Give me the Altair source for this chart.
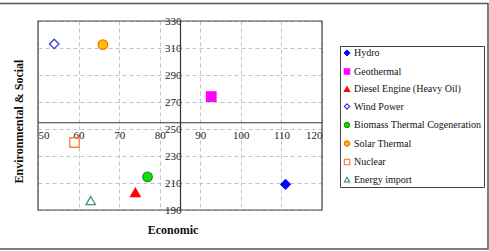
import altair as alt
import pandas as pd

# Technology options scored on two criteria
sources = [
    "Hydro",
    "Geothermal",
    "Diesel Engine  (Heavy Oil)",
    "Wind Power",
    "Biomass Thermal Cogeneration",
    "Solar Thermal",
    "Nuclear",
    "Energy import",
]
economic = [111, 92.7, 74, 54, 77, 66, 59, 63]
env_social = [209, 274, 203, 313, 214.5, 312.5, 240, 197]

shapes = ["diamond", "square", "triangle-up", "diamond", "circle", "circle", "square", "triangle-up"]
strokes = ["#0000ff", "#ff00ff", "#ff0000", "#3b3bd6", "#119911", "#ff6a00", "#ff8040", "#3a9a7a"]
fills = ["#0000ff", "#ff00ff", "#ff0000", "transparent", "#11dd11", "#ffc000", "transparent", "transparent"]

x_ticks = [50, 60, 70, 80, 90, 100, 110, 120]
y_ticks = [190, 210, 230, 250, 270, 290, 310, 330]

df = pd.DataFrame({"source": sources, "economic": economic, "env": env_social})

W, H = 284, 189
X_DOM, Y_DOM = [50, 120], [190, 330]
X_CROSS, Y_CROSS = 85, 255  # where the axes cross inside the plot

x_off = -(H - (Y_DOM[1] - Y_CROSS) / (Y_DOM[1] - Y_DOM[0]) * H)
y_off = -((X_CROSS - X_DOM[0]) / (X_DOM[1] - X_DOM[0]) * W)

FONT = "'Liberation Serif', 'Times New Roman', Times, serif"

legend = alt.Legend(
    title=None,
    orient="none",
    legendX=302,
    legendY=25,
    strokeColor="#444444",
    fillColor="white",
    padding=2,
    labelFont=FONT,
    labelFontSize=10,
    labelColor="#111111",
    labelLimit=300,
    labelOffset=2,
    symbolSize=28,
    symbolStrokeWidth=1.2,
    rowPadding=6.5,
)

points = alt.Chart(df).mark_point(size=90, strokeWidth=1.3, opacity=1, fillOpacity=1).encode(
    x=alt.X(
        "economic:Q",
        scale=alt.Scale(domain=X_DOM, nice=False, zero=False),
        axis=alt.Axis(
            values=x_ticks,
            title="Economic",
            offset=x_off,
            titleX=134.5,
            titleY=106.75,
            titleBaseline="middle",
            titleAlign="center",
            labelPadding=7,
        ),
    ),
    y=alt.Y(
        "env:Q",
        scale=alt.Scale(domain=Y_DOM, nice=False, zero=False),
        axis=alt.Axis(
            values=y_ticks,
            title="Environmental & Social",
            offset=y_off,
            titleX=-162,
            titleY=100,
            titleBaseline="middle",
            titleAlign="center",
            labelPadding=-1,
        ),
    ),
    shape=alt.Shape("source:N", scale=alt.Scale(domain=sources, range=shapes), legend=legend),
    stroke=alt.Stroke("source:N", scale=alt.Scale(domain=sources, range=strokes), legend=legend),
    fill=alt.Fill("source:N", scale=alt.Scale(domain=sources, range=fills), legend=legend),
)

one_row = alt.Data(values=[{}])

# Solid border of the plotting area
plot_border = alt.Chart(one_row).mark_rect(
    fill="transparent", stroke="#444444", strokeWidth=1.2
).encode(x=alt.value(0), x2=alt.value(W), y=alt.value(0), y2=alt.value(H))

# Outer frame around the whole figure
frame = alt.Chart(one_row).mark_rect(
    fill="transparent", stroke="#555555", strokeWidth=1.5
).encode(x=alt.value(-60), x2=alt.value(450), y=alt.value(-17.5), y2=alt.value(228))

chart = alt.layer(frame, plot_border, points).properties(
    width=W,
    height=H,
    autosize=alt.AutoSizeParams(type="none"),
    padding={"left": 38, "top": 21, "right": 167, "bottom": 41},
    background="white",
).configure_view(
    stroke=None
).configure_axis(
    grid=True,
    gridColor="#c4c4c4",
    gridDash=[4, 3],
    gridWidth=1,
    domainColor="#333333",
    domainWidth=1.2,
    ticks=False,
    tickSize=0,
    labelFont=FONT,
    labelFontSize=11,
    labelColor="#222222",
    titleFont=FONT,
    titleFontSize=12,
    titleFontWeight="bold",
    titleColor="#111111",
)

chart.save("out.html", embed_options={"renderer": "svg", "actions": False})
